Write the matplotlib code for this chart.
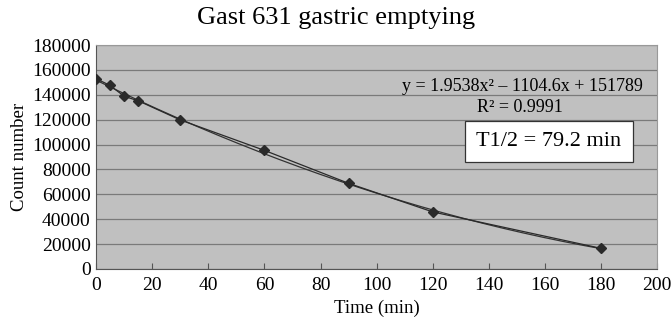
import matplotlib.pyplot as plt
import numpy as np

# Data
time_min = [0, 5, 10, 15, 30, 60, 90, 120, 180]
counts = [153000, 147500, 138800, 135200, 119800, 95300, 68800, 45800, 16500]

# Trendline coefficients as printed on the chart
fit_coef = [1.9538, -1104.6, 151789]
fit_text = 'y = 1.9538x² – 1104.6x + 151789'
r2_text = 'R² = 0.9991'
half_text = 'T1/2 = 79.2 min'

plt.rcParams['font.family'] = ['Liberation Serif', 'DejaVu Serif']

fig = plt.figure(figsize=(6.72, 3.22), dpi=100)
ax = fig.add_axes([0.143, 0.165, 0.835, 0.695])
ax.set_facecolor('#c0c0c0')

xs = np.linspace(time_min[0], time_min[-1], 200)
ax.plot(xs, np.polyval(fit_coef, xs), color='#333333', lw=0.9, zorder=3)
ax.plot(time_min, counts, color='#2a2a2a', lw=0.9, marker='D', ms=5,
        markerfacecolor='#2a2a2a', zorder=4)

ax.set_xlim(0, 200)
ax.set_ylim(0, 180000)
ax.set_xticks(range(0, 201, 20))
ax.set_yticks(range(0, 180001, 20000))
ax.yaxis.grid(True, color='#7a7a7a', lw=0.9)
ax.set_axisbelow(True)
ax.tick_params(axis='x', direction='in', length=4, color='#555555', labelsize=14, pad=6)
ax.tick_params(axis='y', length=0, labelsize=14, pad=4)
for s in ['left', 'bottom']:
    ax.spines[s].set_color('#555555')
for s in ['top', 'right']:
    ax.spines[s].set_color('#999999')

ax.set_xlabel('Time (min)', fontsize=13.5, labelpad=4)
ax.set_ylabel('Count number', fontsize=13.5, labelpad=3)
fig.text(0.5, 0.943, 'Gast 631 gastric emptying', ha='center', va='center', fontsize=19)

ax.text(0.759, 0.813, fit_text, transform=ax.transAxes, ha='center', va='center', fontsize=13)
ax.text(0.756, 0.723, r2_text, transform=ax.transAxes, ha='center', va='center', fontsize=13)
ax.text(0.807, 0.569, half_text, transform=ax.transAxes, ha='center', va='center', fontsize=16,
        bbox=dict(boxstyle='square,pad=0.5', facecolor='white', edgecolor='#333333', lw=0.9))

fig.savefig('out.png', dpi=100)
